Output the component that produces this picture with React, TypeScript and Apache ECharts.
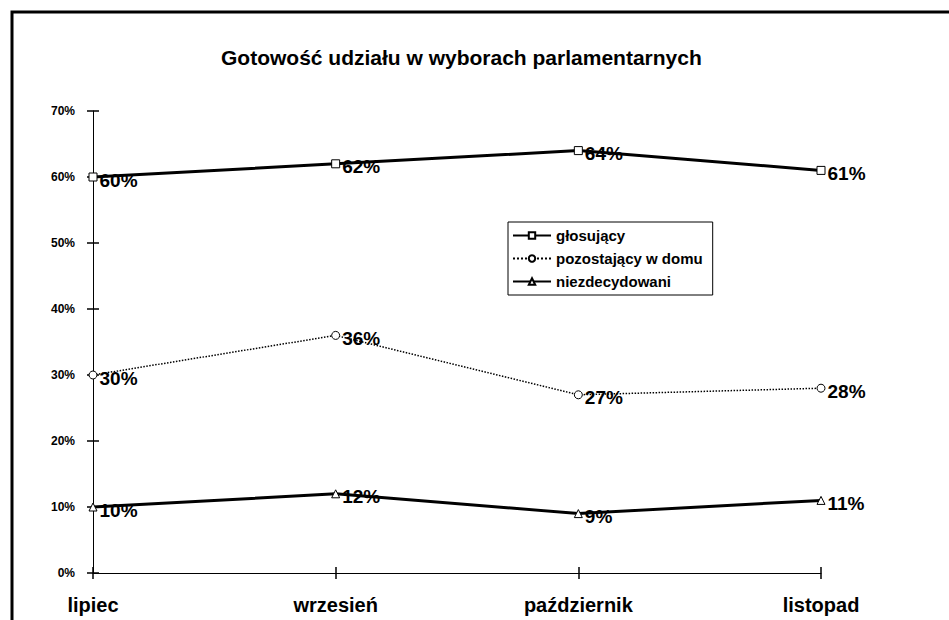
import React, { useEffect, useRef } from "react";
import * as echarts from "echarts";

const months = ["lipiec", "wrzesień", "październik", "listopad"];
const glosujacy = [60, 62, 64, 61];
const pozostajacy = [30, 36, 27, 28];
const niezdecydowani = [10, 12, 9, 11];
const seriesNames = ["głosujący", "pozostający w domu", "niezdecydowani"];
const titleText = "Gotowość udziału w wyborach parlamentarnych";

const FONT = "'Liberation Sans', Arial, Helvetica, sans-serif";

export default function App() {
  const ref = useRef<HTMLDivElement>(null);
  useEffect(() => {
    document.body.style.margin = "0";
    const chart = echarts.init(ref.current!, null, { renderer: "svg" });
    const label = {
      show: true,
      position: "right" as const,
      distance: 2,
      offset: [0, 3],
      formatter: "{c}%",
      color: "#000",
      fontFamily: FONT,
      fontWeight: "bold" as const,
      fontSize: 19,
    };
    const mk = (name: string, data: number[], symbol: string, width: number, type: string) => ({
      name,
      type: "line" as const,
      data,
      symbol,
      symbolSize: 8,
      showAllSymbol: true,
      lineStyle: { color: "#000", width, type },
      itemStyle: { color: "#fff", borderColor: "#000", borderWidth: 1 },
      label,
      emphasis: { disabled: true },
    });
    chart.setOption({
      animation: false,
      backgroundColor: "#fff",
      title: {
        text: titleText,
        left: 216,
        top: 42,
        textStyle: { fontFamily: FONT, fontWeight: "bold", fontSize: 21, color: "#000" },
      },
      graphic: [
        {
          type: "rect",
          shape: { x: 12, y: 12, width: 1000, height: 700 },
          style: { fill: "none", stroke: "#000", lineWidth: 3 },
          silent: true,
        },
      ],
      legend: {
        orient: "vertical",
        left: 508,
        top: 222,
        data: seriesNames,
        borderColor: "#000",
        borderWidth: 1,
        padding: [6, 10, 6, 4],
        itemGap: 8,
        itemWidth: 38,
        itemHeight: 8,
        textStyle: { fontFamily: FONT, fontSize: 15, fontWeight: "bold", color: "#000" },
      },
      grid: { left: 93, right: 128, top: 111, bottom: 47 },
      xAxis: [
        {
          type: "category",
          data: months,
          boundaryGap: false,
          axisLine: { lineStyle: { color: "#000", width: 1 } },
          axisTick: { show: true, length: 6, lineStyle: { color: "#000", width: 1.5 } },
          axisLabel: {
            margin: 22,
            color: "#000",
            fontFamily: FONT,
            fontWeight: "bold",
            fontSize: 20,
          },
        },
        {
          type: "category",
          data: months,
          boundaryGap: false,
          position: "bottom",
          axisLine: { show: false },
          axisTick: { show: true, inside: true, length: 6, lineStyle: { color: "#000", width: 1.5 } },
          axisLabel: { show: false },
        },
      ],
      yAxis: [
        {
          type: "value",
          min: 0,
          max: 70,
          interval: 10,
          splitLine: { show: false },
          axisLine: { show: true, lineStyle: { color: "#000", width: 1 } },
          axisTick: { show: true, length: 6, lineStyle: { color: "#000", width: 1.5 } },
          axisLabel: {
            formatter: "{value}%",
            margin: 18,
            color: "#000",
            fontFamily: FONT,
            fontWeight: "bold",
            fontSize: 12,
          },
        },
        {
          type: "value",
          min: 0,
          max: 70,
          interval: 10,
          position: "left",
          splitLine: { show: false },
          axisLine: { show: false },
          axisTick: { show: true, inside: true, length: 6, lineStyle: { color: "#000", width: 1.5 } },
          axisLabel: { show: false },
        },
      ],
      series: [
        mk(seriesNames[0], glosujacy, "rect", 3, "solid"),
        mk(seriesNames[1], pozostajacy, "circle", 1.5, "dotted"),
        mk(seriesNames[2], niezdecydowani, "triangle", 3, "solid"),
      ],
    });
    return () => chart.dispose();
  }, []);
  return <div ref={ref} style={{ position: "fixed", left: 0, top: 0, width: 949, height: 620 }} />;
}
